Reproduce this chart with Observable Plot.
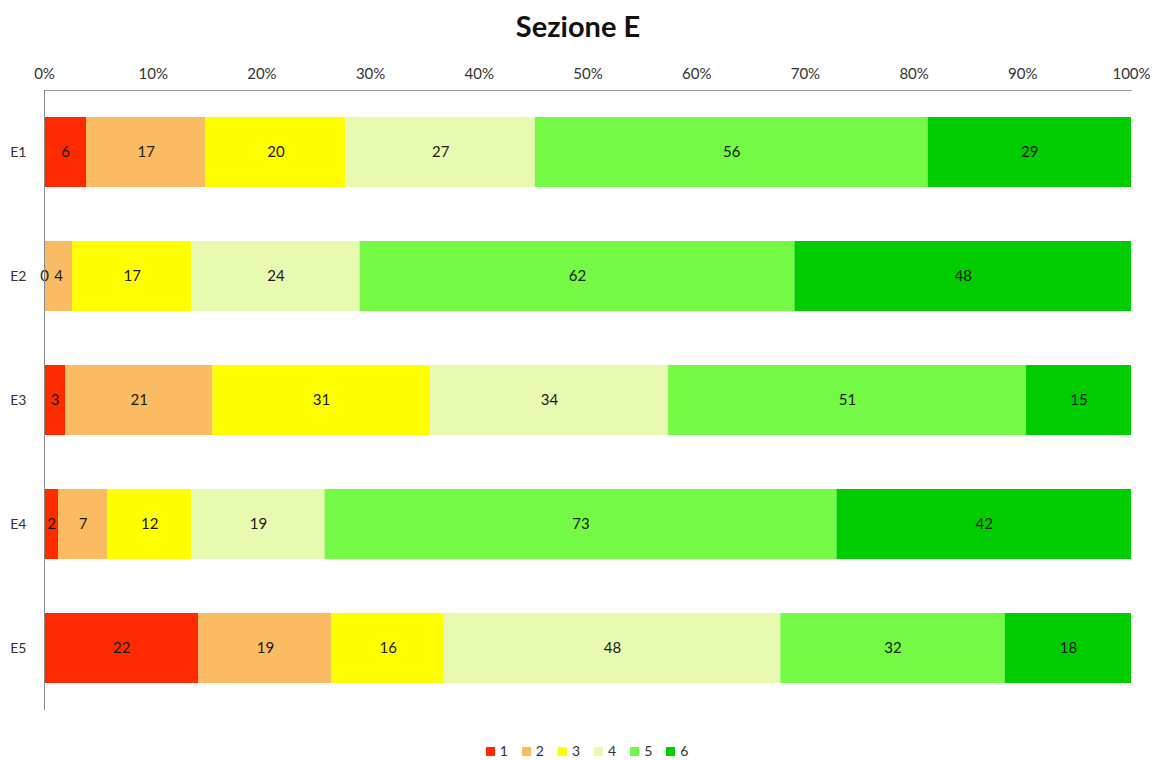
<!DOCTYPE html>
<html>
<head>
<meta charset="utf-8">
<script src="https://cdn.jsdelivr.net/npm/d3@7"></script>
<script src="https://cdn.jsdelivr.net/npm/@observablehq/plot@0.6"></script>
<style>
  body { margin: 0; background: #fff; font-family: Lato, "Open Sans", sans-serif; }
  #wrap { width: 1156px; }
  #title { height: 52px; line-height: 52px; text-align: center; font-weight: bold; font-size: 29px; color: #111; }
  #legend { margin-top: 13px; height: 16px; line-height: 16px; display: flex; justify-content: center; font-size: 14px; color: #333; padding-left: 18px; }
  #legend .item { display: flex; align-items: center; margin: 0 7px; }
  #legend .sw { width: 9px; height: 9px; margin-right: 5px; }
  g[aria-label="x-axis tick label"] { font-size: 15px; fill: #333; }
  g[aria-label="y-axis tick label"] { font-size: 14px; fill: #333; }
</style>
</head>
<body>
<div id="wrap">
  <div id="title">Sezione E</div>
  <div id="chart"></div>
  <div id="legend"></div>
</div>
<script>
// Questions of section E and the response levels 1–6
const rows = ["E1", "E2", "E3", "E4", "E5"];
const levels = ["1", "2", "3", "4", "5", "6"];
const levelColors = ["#ff2a00", "#fbbb62", "#ffff00", "#e8fab0", "#74fa44", "#00cc00"];

// Number of answers per level, one array per question
const E1 = [6, 17, 20, 27, 56, 29];
const E2 = [0, 4, 17, 24, 62, 48];
const E3 = [3, 21, 31, 34, 51, 15];
const E4 = [2, 7, 12, 19, 73, 42];
const E5 = [22, 19, 16, 48, 32, 18];
const counts = [E1, E2, E3, E4, E5];

const xTicks = [0, 0.1, 0.2, 0.3, 0.4, 0.5, 0.6, 0.7, 0.8, 0.9, 1];

const data = rows.flatMap((row, i) =>
  levels.map((level, j) => ({row, level, value: counts[i][j]}))
);

const stack = {x: "value", y: "row", offset: "normalize"};

const chart = Plot.plot({
  width: 1156,
  height: 678,
  marginTop: 38,
  marginBottom: 20,
  marginLeft: 44,
  marginRight: 25,
  style: {fontFamily: "Lato, 'Open Sans', sans-serif", fontSize: "14px", color: "#333"},
  x: {domain: [0, 1], axis: null},
  y: {domain: rows, paddingInner: 0.435, paddingOuter: 0.2175, axis: null},
  color: {domain: levels, range: levelColors},
  marks: [
    Plot.barX(data, Plot.stackX({...stack, fill: "level"})),
    Plot.text(data, Plot.stackX({...stack, text: "value", fill: "#1a1a1a", fontSize: 15})),
    Plot.axisX({anchor: "top", ticks: xTicks, tickFormat: d3.format(".0%"), tickSize: 0, tickPadding: 12, fontSize: 15, label: null}),
    Plot.axisY({anchor: "left", tickSize: 0, tickPadding: 18, fontSize: 14, label: null}),
    Plot.frame({anchor: "top", stroke: "#999"}),
    Plot.ruleX([0], {stroke: "#888"})
  ]
});
document.getElementById("chart").appendChild(chart);

const legend = d3.select("#legend");
levels.forEach((level, j) => {
  const item = legend.append("div").attr("class", "item");
  item.append("div").attr("class", "sw").style("background", levelColors[j]);
  item.append("span").text(level);
});
</script>
</body>
</html>
